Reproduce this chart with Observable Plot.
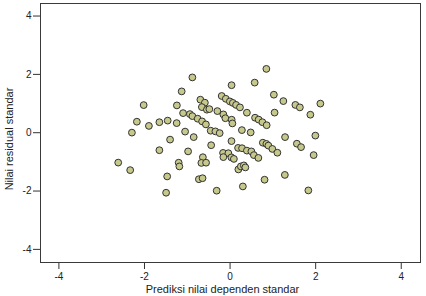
<!DOCTYPE html>
<html>
<head>
<meta charset="utf-8">
<script src="https://cdn.jsdelivr.net/npm/d3@7"></script>
<script src="https://cdn.jsdelivr.net/npm/@observablehq/plot@0.6"></script>
<style>
  html, body { margin: 0; padding: 0; background: #fff; overflow: hidden; }
</style>
</head>
<body>
<div id="chart"></div>
<script>
// Standardized predicted value (x) and standardized residual (y)
const predicted = [
  -0.881, -1.131, -2.019, -1.243, -0.694, -0.589, -0.659, -0.542, -0.484, -0.297,
  -1.098, -0.939, -0.881, -0.757, -0.654, -0.565, -2.178, -1.897, -1.652, -1.458,
  -1.248, -2.294, -1.051, -0.850, -1.402, -0.442, -1.652, -0.981, -2.614, -2.334,
  -1.201, -1.185, -0.636, -0.671, -0.561, -1.470, -0.729, -0.643, -1.495, -0.313,
  0.848, 0.035, 0.575, 1.023, 1.245, 1.526, 1.631, 2.110, 1.876, 1.040,
  -0.196, -0.100, -0.005, 0.065, 0.140, 0.231, 0.393, 0.584, 0.668, 0.755,
  0.855, -0.157, -0.110, 0.037, 0.054, -0.453, -0.343, -0.243, 0.276, 0.481,
  1.285, 1.993, 0.033, 0.766, 0.848, 0.895, 0.988, 1.105, 1.561, 1.659,
  1.953, 0.187, 0.280, 0.393, 0.498, 0.556, 0.661, -0.164, -0.040, -0.157,
  0.030, 0.089, 0.194, 0.252, 0.322, 0.357, 0.299, 0.806, 1.280, 1.829
];
const residual = [
  1.896, 1.416, 0.947, 0.936, 1.132, 1.029, 0.878, 0.789, 0.809, 0.741,
  0.672, 0.638, 0.569, 0.480, 0.388, 0.285, 0.377, 0.233, 0.360, 0.415,
  0.329, 0.003, 0.038, -0.151, -0.237, -0.429, -0.600, -0.641, -1.025, -1.283,
  -1.029, -1.156, -0.840, -1.036, -1.029, -1.499, -1.595, -1.560, -2.058, -1.989,
  2.188, 1.629, 1.718, 1.303, 1.084, 0.953, 0.868, 0.998, 0.617, 0.689,
  1.259, 1.163, 1.073, 1.022, 0.953, 0.868, 0.686, 0.514, 0.449, 0.360,
  0.257, 0.628, 0.497, 0.446, 0.319, 0.069, 0.045, -0.014, 0.089, 0.010,
  -0.151, -0.099, -0.288, -0.343, -0.384, -0.442, -0.556, -0.686, -0.377, -0.494,
  -0.768, -0.521, -0.532, -0.614, -0.641, -0.768, -0.864, -0.693, -0.703, -0.837,
  -0.847, -0.898, -1.259, -1.156, -1.121, -1.190, -1.842, -1.612, -1.447, -1.979
];
const xTicks = [-4, -2, 0, 2, 4];
const yTicks = [-4, -2, 0, 2, 4];
const xTitle = "Prediksi nilai dependen standar";
const yTitle = "Nilai residual standar";

const points = predicted.map((x, i) => ({x, y: residual[i]}));

const chart = Plot.plot({
  width: 426,
  height: 296,
  marginLeft: 40,
  marginRight: 6,
  marginTop: 3,
  marginBottom: 34,
  style: {fontFamily: "'Liberation Sans', Arial, sans-serif", background: "#fff", color: "#222"},
  x: {domain: [-4.43, 4.45]},
  y: {domain: [-4.45, 4.43]},
  marks: [
    Plot.axisX({ticks: xTicks, tickSize: 7, tickPadding: 3, fontSize: 10, label: null, stroke: "#333", tickFormat: d => String(d)}),
    Plot.axisY({ticks: yTicks, tickSize: 7, tickPadding: 2, fontSize: 10, label: null, stroke: "#333", tickFormat: d => String(d)}),
    Plot.frame({stroke: "#3a3a3a", strokeWidth: 1}),
    Plot.dot(points, {x: "x", y: "y", r: 3.4, fill: "#c6c88c", stroke: "#333", strokeWidth: 1}),
    Plot.text([yTitle], {frameAnchor: "left", dx: -31, dy: 6, rotate: -90, fontSize: 11, fill: "#222", textAnchor: "middle"}),
    Plot.text([xTitle], {frameAnchor: "bottom", dx: -8, dy: 27, fontSize: 11, fill: "#222", textAnchor: "middle", lineAnchor: "middle"})
  ]
});
document.getElementById("chart").appendChild(chart);
</script>
</body>
</html>
